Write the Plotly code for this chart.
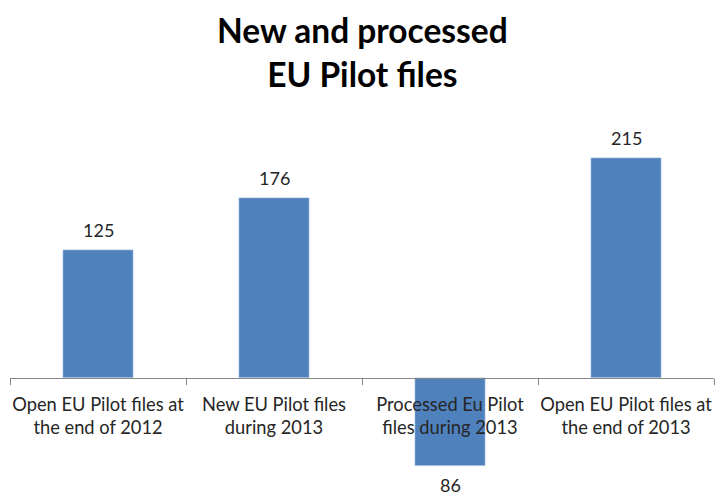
import plotly.graph_objects as go

categories = ["Open EU Pilot files at<br>the end of 2012",
              "New EU Pilot files<br>during 2013",
              "Processed Eu Pilot<br>files during 2013",
              "Open EU Pilot files at<br>the end of 2013"]
values = [125, 176, -86, 215]
title_text = "New and processed<br>EU Pilot files"

ymin, ymax = -100, 250
zero_pos = (0 - ymin) / (ymax - ymin)

fig = go.Figure()
fig.add_trace(go.Bar(x=categories, y=values, marker_color="#4F81BD", width=0.4,
                     hoverinfo="skip"))

for c, v in zip(categories, values):
    fig.add_annotation(x=c, y=v, text=str(abs(v)), showarrow=False,
                       yshift=20 if v >= 0 else -19,
                       font=dict(family="Lato", size=18, color="#262626"))

fig.add_annotation(xref="paper", yref="paper", x=0.5, y=1.195,
                   xanchor="center", yanchor="middle", showarrow=False,
                   text="<b>" + title_text + "</b>",
                   font=dict(family="Lato", size=33.5, color="black"))

fig.update_layout(
    width=716, height=496,
    margin=dict(l=10, r=2, t=122, b=16, autoexpand=False),
    paper_bgcolor="white", plot_bgcolor="white",
    showlegend=False,
    font=dict(family="Lato", color="#262626"),
    xaxis=dict(anchor="free", position=zero_pos, showline=True, linecolor="#868686",
               linewidth=1, ticks="outside", tickson="boundaries", ticklen=6,
               tickcolor="#868686", showgrid=False, ticklabelstandoff=10,
               tickangle=0, automargin=False, ticklabeloverflow="allow",
               tickfont=dict(family="Lato", size=18.3, color="#262626")),
    yaxis=dict(range=[ymin, ymax], visible=False, showgrid=False, zeroline=False,
               automargin=False),
)

fig.write_html("out.html", config={"displayModeBar": False, "staticPlot": True},
               post_script="document.body.style.margin='0';document.body.style.overflow='hidden';")
